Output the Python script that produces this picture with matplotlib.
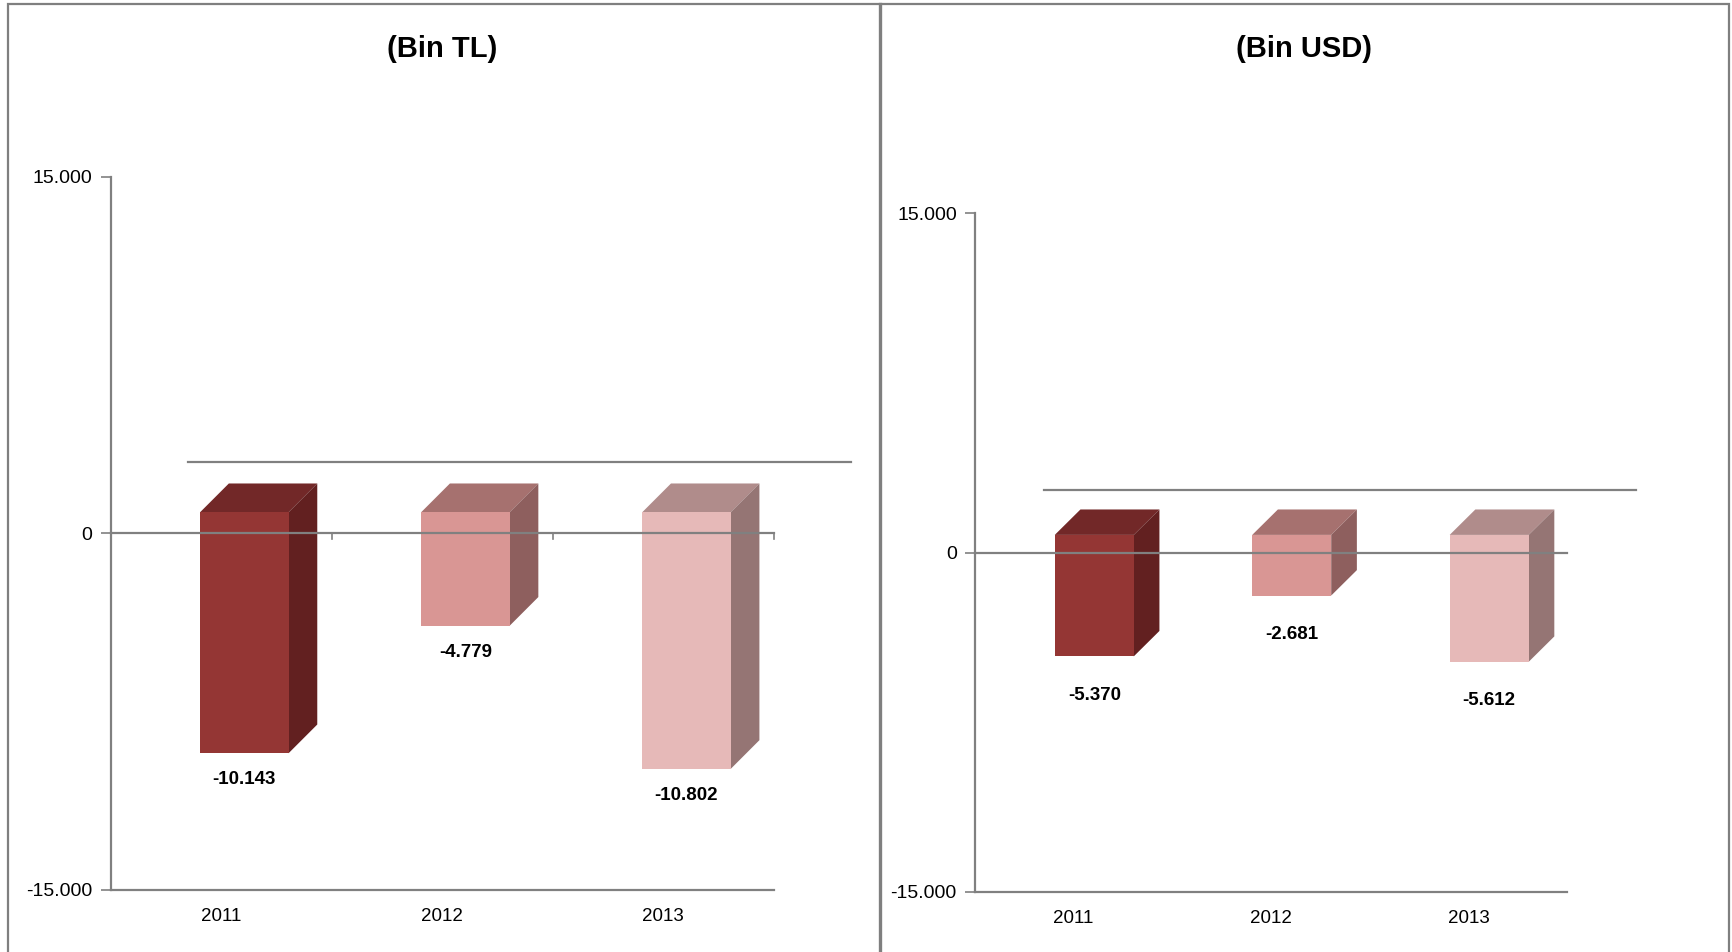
"""
Excel tarzı 3B sütun grafiği: (Bin TL) ve (Bin USD) panelleri
"""
import matplotlib
matplotlib.use('Agg')
import matplotlib.pyplot as plt
from matplotlib import font_manager
from matplotlib.lines import Line2D
from matplotlib.patches import Polygon, Rectangle

# veriler
years = ['2011', '2012', '2013']
tl_values = [-10143, -4779, -10802]
usd_values = [-5370, -2681, -5612]
y_ticks = [-15000, 0, 15000]
y_tick_labels = ['-15.000', '0', '15.000']

front_colors = ['#943634', '#D99694', '#E6B9B8']
top_colors = ['#722828', '#A6716F', '#B08C8B']
side_colors = ['#622020', '#8E5F5E', '#957574']

GREY = '#808080'

# Arial Narrow benzeri yazı tipi varsa onu kullan
names = {f.name for f in font_manager.fontManager.ttflist}
if 'Liberation Sans Narrow' in names:
    NARROW = 'Liberation Sans Narrow'
    tick_fs, cat_fs, val_fs = 17, 16, 16
else:
    NARROW = 'Liberation Sans'
    tick_fs, cat_fs, val_fs = 14, 13.5, 13.5
plt.rcParams['font.family'] = ['Liberation Sans', 'DejaVu Sans']


def tr_format(v):
    return f'{v:,}'.replace(',', '.')


def draw_panel(ax, values, lift, dy, wall_dy, label_gap, zero_ticks):
    ax.set_xlim(0, 3)
    ax.set_ylim(-15000, 15000)
    dx = 0.13
    width = 0.4

    # zemin arka kenarı
    ax.plot([0.35, 3.35], [wall_dy, wall_dy], color=GREY, lw=1.6,
            clip_on=False, zorder=1)

    for i, v in enumerate(values):
        x0 = i + 0.5 + 0.105 - width / 2
        x1 = x0 + width
        top = lift
        bot = v + lift
        ax.add_patch(Polygon([(x0, top), (x1, top), (x1 + dx, top + dy), (x0 + dx, top + dy)],
                             closed=True, fc=top_colors[i], ec='none', clip_on=False, zorder=2))
        ax.add_patch(Polygon([(x1, bot), (x1 + dx, bot + dy), (x1 + dx, top + dy), (x1, top)],
                             closed=True, fc=side_colors[i], ec='none', clip_on=False, zorder=2))
        ax.add_patch(Rectangle((x0, bot), width, top - bot, fc=front_colors[i], ec='none',
                               clip_on=False, zorder=2))
        ax.annotate(tr_format(v), xy=((x0 + x1) / 2, bot), xytext=(0, -label_gap),
                    textcoords='offset points', ha='center', va='center',
                    fontsize=val_fs, fontweight='bold', family=NARROW, color='black')

    # sıfır çizgisi
    ax.plot([0, 3], [0, 0], color=GREY, lw=1.6, zorder=3, clip_on=False)
    if zero_ticks:
        for k in [1, 2, 3]:
            ax.plot([k, k], [0, -260], color=GREY, lw=1.2, zorder=3, clip_on=False)

    for s in ['top', 'right']:
        ax.spines[s].set_visible(False)
    for s in ['left', 'bottom']:
        ax.spines[s].set_color(GREY)
        ax.spines[s].set_linewidth(1.6)

    ax.set_xticks([0.5, 1.5, 2.5])
    ax.set_xticklabels(years, family=NARROW, fontsize=cat_fs)
    ax.tick_params(axis='x', length=0, pad=13)
    ax.set_yticks(y_ticks)
    ax.set_yticklabels(y_tick_labels, family=NARROW, fontsize=tick_fs)
    ax.tick_params(axis='y', length=7, width=1.2, color=GREY, pad=6)


fig = plt.figure(figsize=(17.33, 9.52), dpi=100)

# panel çerçeveleri
fig.patches.append(Rectangle((8 / 1733, -0.05), (1729 - 8) / 1733, 1.05 - 4 / 952,
                             transform=fig.transFigure, fill=False, ec='#7F7F7F', lw=1.6))
fig.lines.append(Line2D([880 / 1733, 880 / 1733], [-0.05, 1 - 4 / 952],
                        transform=fig.transFigure, color='#7F7F7F', lw=2.4))

ax1 = fig.add_axes([0.0638, 0.0654, 0.3827, 0.7489])
draw_panel(ax1, tl_values, lift=885, dy=1210, wall_dy=2980, label_gap=19, zero_ticks=True)

ax2 = fig.add_axes([0.5625, 0.0631, 0.3418, 0.7129])
draw_panel(ax2, usd_values, lift=782, dy=1124, wall_dy=2785, label_gap=28, zero_ticks=False)

fig.text(0.255, 0.949, '(Bin TL)', ha='center', va='center', fontsize=21, fontweight='bold')
fig.text(0.7525, 0.949, '(Bin USD)', ha='center', va='center', fontsize=21, fontweight='bold')

fig.savefig('out.png', dpi=100)
plt.close(fig)
